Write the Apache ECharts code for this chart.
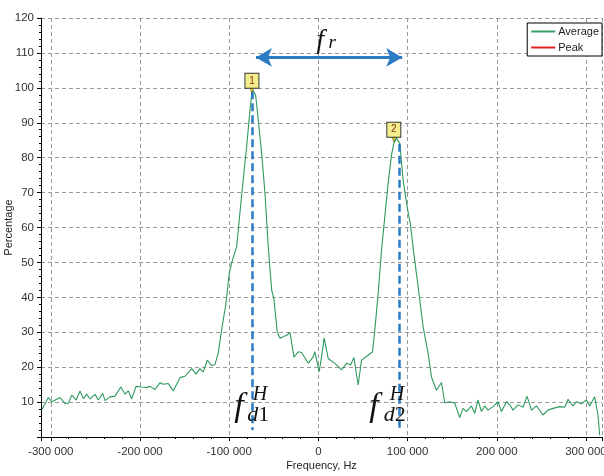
<!DOCTYPE html>
<html><head><meta charset="utf-8">
<script src="https://cdn.jsdelivr.net/npm/echarts@6/dist/echarts.min.js"></script>
<style>html,body{margin:0;padding:0;background:#fff}#c{width:604px;height:476px}</style>
</head><body><div id="c"></div>
<script>
// ---- data ----
const freqHz = [-310000,-302700,-298900,-289600,-284000,-280300,-276500,-271700,-267200,-263500,-259700,-256000,-250400,-246700,-241800,-239200,-233600,-228000,-221600,-216800,-213100,-209300,-204500,-198100,-192500,-188800,-183200,-177600,-173900,-168300,-162700,-155200,-149600,-142100,-137200,-132800,-129100,-124600,-119700,-116000,-112300,-108500,-103600,-99900,-97300,-91600,-88000,-84300,-80400,-76700,-74200,-70400,-67400,-63600,-59900,-56200,-52400,-49900,-46200,-43100,-39400,-35000,-31900,-27400,-22600,-18800,-11400,-5800,-3900,900,3600,6500,11000,18500,26000,31600,36100,39800,44600,48400,54700,60700,63300,67000,70800,74500,78200,82000,84600,87600,91300,95000,99500,103300,107000,111800,117400,123000,126800,132400,138000,141700,147300,152900,158500,162200,166000,171600,175300,179000,182800,186500,190200,195800,201400,205300,210900,214600,218300,223900,229500,233900,238900,244500,251900,257500,263100,270600,276200,279900,285500,289300,294900,300500,304200,309800,313500,315400];
const averagePct = [7.9,11.3,10.1,11.3,9.6,9.7,12.0,10.6,13.2,11.0,12.3,10.9,12.2,10.6,12.5,10.4,11.5,11.7,14.3,12.3,13.2,10.9,14.5,14.3,14.2,14.5,13.6,15.5,15.1,15.3,13.2,17.0,17.4,19.6,18.0,19.6,18.6,22.0,20.5,20.7,24.0,30.7,38.3,46.9,49.8,54.5,64.1,73.6,83.2,93.7,99.5,98.0,90.8,81.3,69.8,54.5,42.1,39.7,30.2,28.3,28.7,29.2,30.0,22.9,24.4,24.2,21.1,23.0,24.4,18.7,23.0,28.3,22.5,21.1,19.2,21.1,20.6,22.8,14.9,22.0,23.2,24.4,30.7,41.0,53.6,63.1,72.7,80.8,84.1,85.6,84.1,73.6,66.0,60.7,52.6,43.1,31.6,24.0,17.2,13.4,15.6,9.8,10.1,9.7,5.6,8.2,7.3,8.9,6.8,10.6,7.3,8.9,7.7,8.7,10.1,7.3,10.1,9.2,7.7,9.2,8.5,11.7,7.7,8.9,6.3,7.7,8.2,8.7,8.5,10.8,8.9,10.1,9.5,10.6,8.9,11.5,6.3,0.5];
const peakPct = [];
const seriesNames = ['Average', 'Peak'];
const xRange = [-311000, 318000];
const yRange = [0, 120];
// annotation anchors (data coordinates)
const peak1 = [-74500, 100];
const peak2 = [84600, 86];
const dopplerLine1 = [-74000, 99, 2];
const dopplerLine2 = [90500, 84, 2];
const frArrow = [-70000, 94000, 108.7];

const fmt = v => (v < 0 ? '-' : '') + String(Math.abs(v)).replace(/\B(?=(\d{3})+(?!\d))/g, ' ');
const tickFont = "'Liberation Sans Narrow','Arial Narrow','Liberation Sans',Arial,sans-serif";
const serif = "'Liberation Serif','Times New Roman',serif";
const blue = '#2b7bc4';

const chart = echarts.init(document.getElementById('c'), null, {renderer: 'canvas'});
const txt = (coord, text, size, italic, extra) => Object.assign({
  coord, symbol: 'circle', symbolSize: 0, itemStyle: {color: 'rgba(0,0,0,0)'},
  label: {show: true, position: 'inside', formatter: text, fontFamily: serif, fontSize: size,
          fontStyle: italic ? 'italic' : 'normal', color: '#111'}
}, extra || {});
const rich = {i: {fontFamily: serif, fontStyle: 'italic', fontSize: 22, color: '#111'},
              n: {fontFamily: serif, fontSize: 22, color: '#111'}};

chart.setOption({
  animation: false,
  backgroundColor: '#fff',
  grid: {left: 41, right: 2, top: 18, bottom: 39, containLabel: false, outerBoundsMode: 'none'},
  legend: {
    data: seriesNames, orient: 'vertical', right: 2, top: 23,
    backgroundColor: '#fff', borderColor: '#000', borderWidth: 1,
    padding: [3, 3, 3, 4], itemGap: 5, icon: 'rect', itemWidth: 24, itemHeight: 2,
    textStyle: {fontFamily: tickFont, fontSize: 11, color: '#222', padding: [0, 0, 0, -2]}
  },
  xAxis: {
    type: 'value', min: xRange[0], max: xRange[1], splitNumber: 6,
    name: 'Frequency, Hz', nameLocation: 'middle', nameGap: 23, nameMoveOverlap: false,
    nameTextStyle: {fontFamily: tickFont, fontSize: 11, color: '#222'},
    axisLine: {onZero: false, lineStyle: {color: '#000', width: 1}},
    axisTick: {show: true, length: 4, lineStyle: {color: '#000'}},
    minorTick: {show: true, splitNumber: 5, length: 2, lineStyle: {color: '#000'}},
    splitLine: {show: true, lineStyle: {color: '#999', type: [4, 3], width: 1}},
    axisLabel: {formatter: fmt, fontFamily: tickFont, fontSize: 11.5, color: '#333', margin: 9,
                showMinLabel: false, showMaxLabel: false}
  },
  yAxis: {
    type: 'value', min: yRange[0], max: yRange[1], interval: 10,
    name: 'Percentage', nameLocation: 'middle', nameGap: 27, nameMoveOverlap: false,
    nameTextStyle: {fontFamily: tickFont, fontSize: 11, color: '#222'},
    axisLine: {show: true, onZero: false, lineStyle: {color: '#000', width: 1}},
    axisTick: {show: true, length: 4, lineStyle: {color: '#000'}},
    minorTick: {show: true, splitNumber: 5, length: 2, lineStyle: {color: '#000'}},
    splitLine: {show: true, lineStyle: {color: '#999', type: [4, 3], width: 1}},
    axisLabel: {fontFamily: tickFont, fontSize: 11.5, color: '#333', margin: 7, showMinLabel: false}
  },
  series: [
    {
      name: seriesNames[0], type: 'line', data: freqHz.map((f, i) => [f, averagePct[i]]),
      showSymbol: false, symbol: 'none', color: '#3a9e66',
      lineStyle: {width: 1.1, color: '#2f9a5e'}, z: 3,
      markLine: {
        silent: true, symbol: 'none', label: {show: false}, z: 5,
        data: [
          [{coord: [dopplerLine1[0], dopplerLine1[1]]}, {coord: [dopplerLine1[0], dopplerLine1[2]]}],
          [{coord: [dopplerLine2[0], dopplerLine2[1]]}, {coord: [dopplerLine2[0], dopplerLine2[2]]}],
          [{coord: [frArrow[0], frArrow[2]], symbol: 'arrow', symbolSize: [14, 16],
            lineStyle: {type: 'solid', width: 3.2}},
           {coord: [frArrow[1], frArrow[2]], symbol: 'arrow', symbolSize: [14, 16],
            lineStyle: {type: 'solid', width: 3.2}}]
        ],
        lineStyle: {color: blue, type: [8, 4], width: 2.5}
      },
      markPoint: {
        silent: true, z: 6,
        data: [
          {coord: peak1, symbol: 'triangle', symbolRotate: 180, symbolSize: [5, 7], symbolOffset: [0, 2],
           itemStyle: {color: '#e8d000', borderColor: '#444', borderWidth: 0.5}, label: {show: false}},
          {coord: peak2, symbol: 'triangle', symbolRotate: 180, symbolSize: [5, 7], symbolOffset: [0, 2],
           itemStyle: {color: '#e8d000', borderColor: '#444', borderWidth: 0.5}, label: {show: false}},
          {coord: peak1, symbol: 'rect', symbolSize: [14, 15], symbolOffset: [0, -7],
           itemStyle: {color: '#f4ee8c', borderColor: '#333', borderWidth: 1},
           label: {show: true, position: 'inside', formatter: '1', fontFamily: 'Liberation Sans', fontSize: 10, color: '#7a2e10'}},
          {coord: peak2, symbol: 'rect', symbolSize: [14, 15], symbolOffset: [0, -7],
           itemStyle: {color: '#f4ee8c', borderColor: '#333', borderWidth: 1},
           label: {show: true, position: 'inside', formatter: '2', fontFamily: 'Liberation Sans', fontSize: 10, color: '#7a2e10'}},
          txt([2200, 113.3], 'f', 27, true),
          txt([15500, 112.8], 'r', 19, true),
          txt([-89100, 8.6], 'f', 34, true),
          txt([-65500, 12.2], 'H', 20, true),
          txt([-67500, 6.2], '{i|d}{n|1}', 22, true, {label: {show: true, position: 'inside', formatter: '{i|d}{n|1}', rich}}),
          txt([62200, 8.6], 'f', 34, true),
          txt([88000, 12.2], 'H', 20, true),
          txt([85700, 6.2], '{i|d}{n|2}', 22, true, {label: {show: true, position: 'inside', formatter: '{i|d}{n|2}', rich}})
        ]
      }
    },
    {
      name: seriesNames[1], type: 'line', data: peakPct, showSymbol: false, symbol: 'none',
      color: '#e02020', lineStyle: {width: 1, color: '#e02020'}
    }
  ]
});
</script></body></html>
